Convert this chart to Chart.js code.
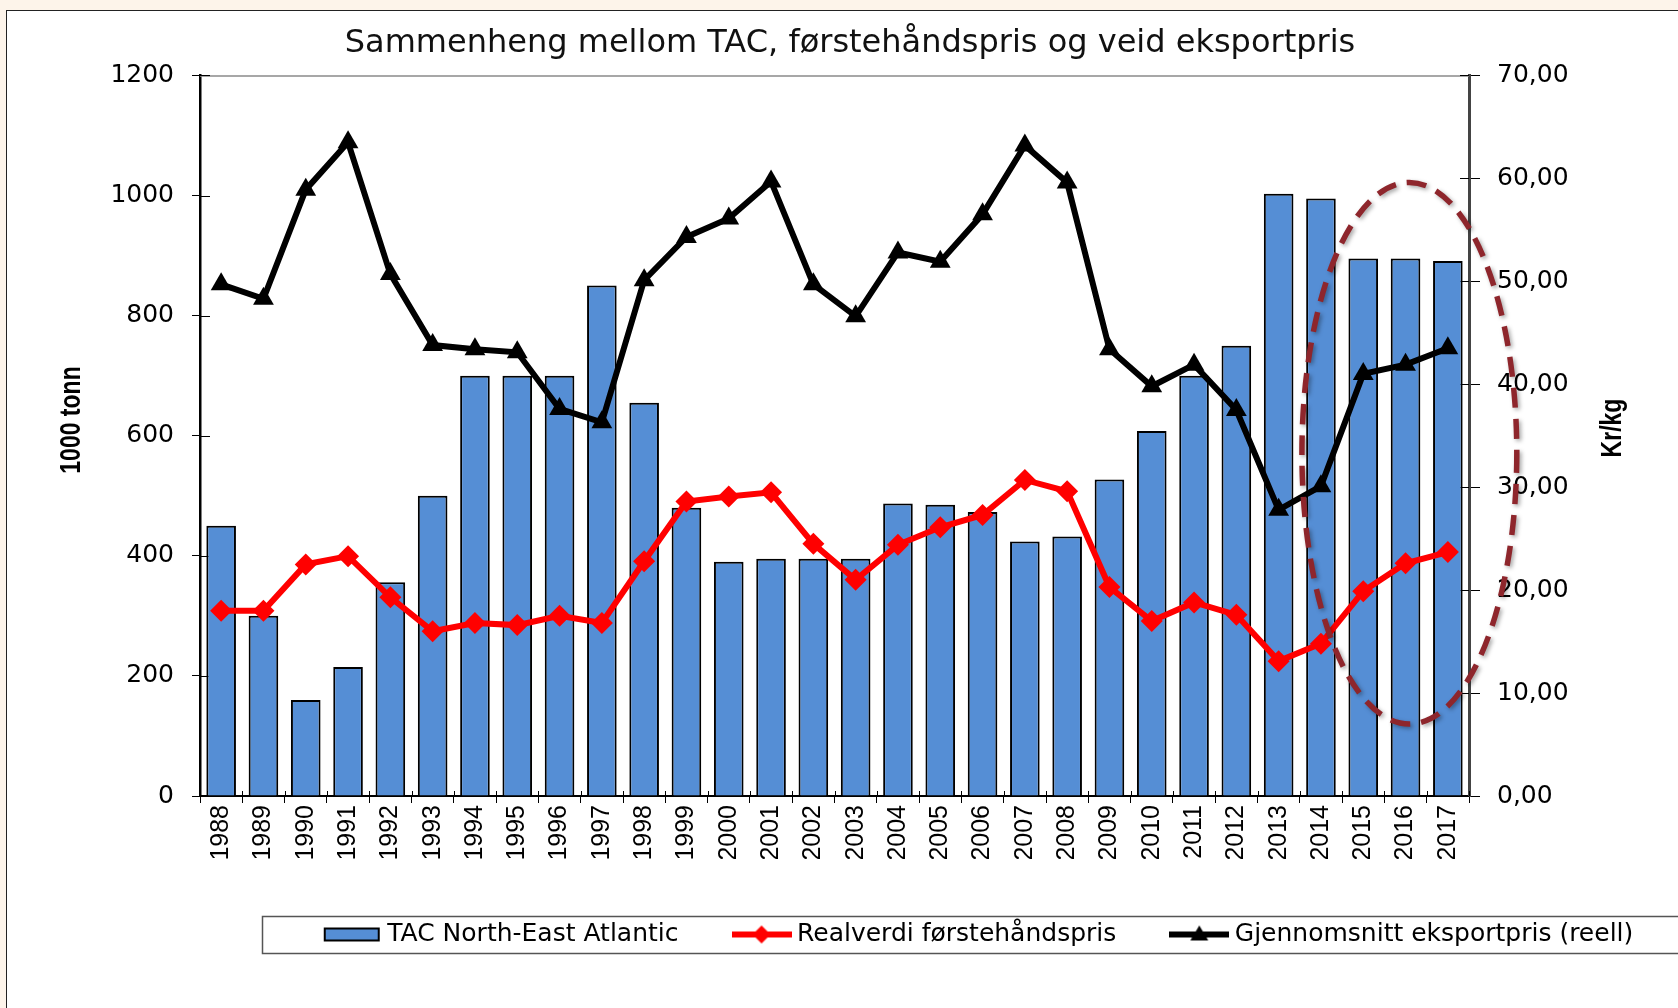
<!DOCTYPE html>
<html lang="no">
<head>
<meta charset="utf-8">
<title>Sammenheng mellom TAC, førstehåndspris og veid eksportpris</title>
<script src="https://cdn.jsdelivr.net/npm/chart.js@4.4.1/dist/chart.umd.min.js"></script>
<style>
  html, body { margin: 0; padding: 0; background: #fdf4ea; overflow: hidden; }
  #ramme { position: absolute; left: 6px; top: 10px; width: 1700px; height: 1010px;
           background: #fff; border-left: 1px solid #222; border-top: 1px solid #222; }
  canvas { display: block; }
</style>
</head>
<body>
<div id="ramme"><canvas id="graf" width="1686" height="997"></canvas></div>
<script>
/* TAC for nordøstarktisk torsk mot første- og eksportpris, 1988–2017 */

const AAR = ["1988", "1989", "1990", "1991", "1992", "1993", "1994", "1995", "1996", "1997",
             "1998", "1999", "2000", "2001", "2002", "2003", "2004", "2005", "2006", "2007",
             "2008", "2009", "2010", "2011", "2012", "2013", "2014", "2015", "2016", "2017"];

// 1000 tonn
const TAC = [450, 300, 160, 215, 356, 500, 700, 700, 700, 850,
             655, 480, 390, 395, 395, 395, 487, 485, 473, 424,
             432, 527, 608, 700, 750, 1003, 995, 895, 895, 891];

// kr/kg
const REALVERDI = [18.0, 18.0, 22.5, 23.3, 19.3, 16.0, 16.8, 16.6, 17.5, 16.8,
                   22.8, 28.6, 29.1, 29.5, 24.5, 21.0, 24.4, 26.1, 27.3, 30.7,
                   29.6, 20.3, 17.0, 18.8, 17.6, 13.1, 14.8, 19.9, 22.6, 23.7];

const EKSPORTPRIS = [49.7, 48.3, 58.9, 63.5, 50.7, 43.8, 43.4, 43.1, 37.6, 36.3,
                     50.1, 54.3, 56.1, 59.7, 49.7, 46.6, 52.8, 51.9, 56.5, 63.2,
                     59.6, 43.4, 39.8, 41.9, 37.5, 27.8, 30.1, 41.0, 41.9, 43.5];

// stiplet ring rundt de siste årene: kategoriindeks (x) og kr/kg (y)
const MARKERING = { xFra: 25.55, xTil: 30.63, yFra: 7.0, yTil: 59.6 };

const TEKST = "'DejaVu Sans', sans-serif";
const SMAL = "'Liberation Sans', Arial, sans-serif";
const BLA = "#558ed5";

Chart.defaults.font.family = TEKST;
Chart.defaults.color = "#000";

function symbol(type, farge) {
  const c = document.createElement("canvas");
  c.width = 60; c.height = 24;
  const g = c.getContext("2d");
  if (type === "bar") {
    g.fillStyle = farge; g.strokeStyle = "#000"; g.lineWidth = 2;
    g.fillRect(3, 6, 54, 12); g.strokeRect(3, 6, 54, 12);
  } else {
    g.strokeStyle = farge; g.lineWidth = 6;
    g.beginPath(); g.moveTo(0, 12); g.lineTo(60, 12); g.stroke();
    g.fillStyle = farge; g.beginPath();
    if (type === "rectRot") { g.moveTo(30, 3); g.lineTo(39, 12); g.lineTo(30, 21); g.lineTo(21, 12); }
    else { g.moveTo(30, 3); g.lineTo(39, 18); g.lineTo(21, 18); }
    g.closePath(); g.fill();
  }
  return c;
}
const SYMBOLER = [symbol("bar", BLA), symbol("rectRot", "#ff0000"), symbol("triangle", "#000")];

// tickmerker som krysser aksene + grå topplinje over plottet
const aksePlugin = {
  id: "akser",
  beforeDatasetsDraw(chart) {
    const { ctx, chartArea: a, scales: { x, y, y1 } } = chart;
    ctx.save();
    ctx.strokeStyle = "#8a8a8a"; ctx.lineWidth = 1.5;
    ctx.beginPath(); ctx.moveTo(a.left, a.top + 0.5); ctx.lineTo(a.right, a.top + 0.5); ctx.stroke();
    ctx.strokeStyle = "#000"; ctx.lineWidth = 1;
    ctx.beginPath();
    y.ticks.forEach((t, i) => { const p = Math.round(y.getPixelForTick(i)) + 0.5; ctx.moveTo(a.left, p); ctx.lineTo(a.left + 10, p); });
    y1.ticks.forEach((t, i) => { const p = Math.round(y1.getPixelForTick(i)) + 0.5; ctx.moveTo(a.right - 9, p); ctx.lineTo(a.right, p); });
    for (let i = 0; i <= AAR.length; i++) {
      const p = Math.round(x.getPixelForValue(i - 0.5)) + 0.5;
      ctx.moveTo(p, a.bottom - 5); ctx.lineTo(p, a.bottom);
    }
    ctx.stroke();
    ctx.restore();
  },
};

const markeringPlugin = {
  id: "markering",
  afterDatasetsDraw(chart) {
    const { ctx, scales: { x, y1 } } = chart;
    const x0 = x.getPixelForValue(MARKERING.xFra), x1 = x.getPixelForValue(MARKERING.xTil);
    const yTopp = y1.getPixelForValue(MARKERING.yTil), yBunn = y1.getPixelForValue(MARKERING.yFra);
    ctx.save();
    ctx.shadowColor = "rgba(0,0,0,.35)"; ctx.shadowBlur = 4; ctx.shadowOffsetX = 2; ctx.shadowOffsetY = 2;
    ctx.strokeStyle = "#8e262c"; ctx.lineWidth = 5.5; ctx.setLineDash([20, 11]);
    ctx.beginPath();
    ctx.ellipse((x0 + x1) / 2, (yTopp + yBunn) / 2, (x1 - x0) / 2, (yBunn - yTopp) / 2, 0, 0, 2 * Math.PI);
    ctx.stroke();
    ctx.restore();
  },
};

// aksetitler og legenderamme tegnes selv for å treffe plasseringen
const tekstPlugin = {
  id: "tekster",
  afterLayout(chart) {
    chart.legend.left = 255;
    chart.legend.right = 1693;
    chart.legend.top += 3;
  },
  afterDraw(chart) {
    const { ctx, scales: { y, y1 }, legend } = chart;
    ctx.save();
    ctx.font = `bold 23px ${SMAL}`;
    ctx.fillStyle = "#000"; ctx.textAlign = "center"; ctx.textBaseline = "middle";
    [[y, 65, 409], [y1, 1606, 417]].forEach(([s, px, py]) => {
      ctx.save(); ctx.translate(px, py); ctx.scale(1.3, 1); ctx.rotate(-Math.PI / 2);
      ctx.fillText(s.options.title.text, 0, 0);
      ctx.restore();
    });
    const midt = legend.top + legend.options.labels.padding + 12.5;
    ctx.strokeStyle = "#555"; ctx.lineWidth = 1.5;
    ctx.strokeRect(255.5, Math.round(midt - 18.5) + 0.5, 1500, 37);
    ctx.restore();
  },
};

new Chart(document.getElementById("graf"), {
  type: "bar",
  data: {
    labels: AAR,
    datasets: [
      { label: "TAC North-East Atlantic", data: TAC, yAxisID: "y", order: 3,
        backgroundColor: BLA, borderColor: "#000", borderWidth: 2,
        barPercentage: 0.7, categoryPercentage: 1 },
      { type: "line", label: "Realverdi førstehåndspris", data: REALVERDI, yAxisID: "y1", order: 2,
        borderColor: "#ff0000", backgroundColor: "#ff0000", borderWidth: 6, tension: 0,
        pointStyle: "rectRot", pointRadius: 11, pointBorderWidth: 0 },
      { type: "line", label: "Gjennomsnitt eksportpris (reell)", data: EKSPORTPRIS, yAxisID: "y1", order: 1,
        borderColor: "#000", backgroundColor: "#000", borderWidth: 6, tension: 0,
        pointStyle: "triangle", pointRadius: 12, pointBorderWidth: 0 },
    ],
  },
  options: {
    responsive: false,
    animation: false,
    layout: { padding: { top: 0, left: 0, right: 0, bottom: 54 } },
    plugins: {
      title: { display: true, text: "Sammenheng mellom TAC, førstehåndspris og veid eksportpris",
               font: { family: TEKST, size: 32, weight: "normal" }, color: "#111",
               padding: { top: 13, bottom: 13 } },
      legend: {
        position: "bottom",
        labels: {
          font: { family: TEKST, size: 25 }, color: "#000", padding: 60,
          usePointStyle: true, pointStyleWidth: 46,
          generateLabels: chart => chart.data.datasets.map((ds, i) => ({
            text: ds.label, pointStyle: SYMBOLER[i], fillStyle: "#000", strokeStyle: "#000",
            lineWidth: 0, hidden: false, datasetIndex: i, fontColor: "#000",
          })),
        },
      },
      tooltip: { enabled: false },
    },
    scales: {
      x: {
        grid: { drawOnChartArea: false, tickLength: 7, color: "#000", offset: true },
        border: { color: "#000", width: 2 },
        ticks: { autoSkip: false, minRotation: 90, maxRotation: 90, padding: 2,
                 font: { family: SMAL, size: 25 }, color: "#000" },
        afterFit: s => { s.height = 63; },
      },
      y: {
        position: "left", min: 0, max: 1200,
        title: { display: false, text: "1000 tonn" },
        grid: { drawOnChartArea: false, tickLength: 8, color: "#000" },
        border: { color: "#000", width: 2.5 },
        ticks: { stepSize: 200, padding: 18, font: { size: 25 }, color: "#000",
                 callback: v => String(v) },
        afterFit: s => { s.width = 193; },
      },
      y1: {
        position: "right", min: 0, max: 70,
        title: { display: false, text: "Kr/kg" },
        grid: { drawOnChartArea: false, tickLength: 11, color: "#000" },
        border: { color: "#444", width: 3 },
        ticks: { stepSize: 10, padding: 17, font: { size: 25 }, color: "#000",
                 callback: v => v.toFixed(2).replace(".", ",") },
        afterFit: s => { s.width = 224; },
      },
    },
  },
  plugins: [aksePlugin, markeringPlugin, tekstPlugin],
});
</script>
</body>
</html>
